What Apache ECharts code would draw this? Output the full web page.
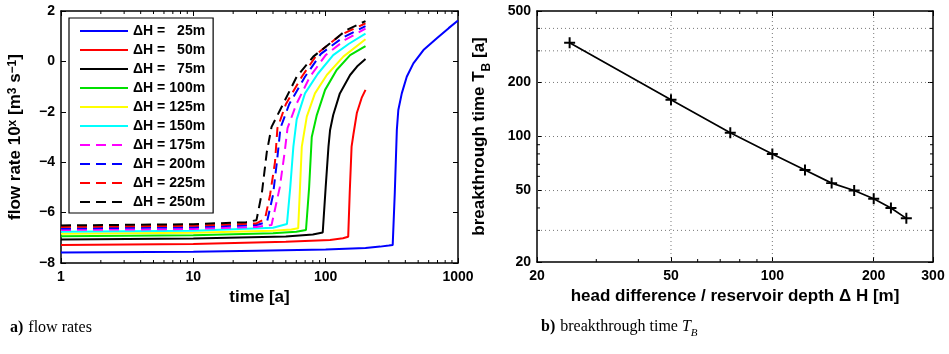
<!DOCTYPE html>
<html><head><meta charset="utf-8">
<script src="https://cdn.jsdelivr.net/npm/echarts@6/dist/echarts.min.js"></script>
<style>html,body{margin:0;padding:0;background:#fff}#c{width:949px;height:354px}</style>
</head><body><div id="c"></div>
<script>
// ---------- data ----------
const heads = [25, 50, 75, 100, 125, 150, 175, 200, 225, 250];
const flow25  = [[1,-7.58],[10,-7.55],[30,-7.51],[100,-7.46],[200,-7.40],[258,-7.35],[300,-7.31],[321,-7.29],[333,-5.2],[345,-2.72],[354,-1.93],[376,-1.27],[410,-0.61],[460,-0.08],[548,0.45],[692,0.92],[850,1.32],[1000,1.62]];
const flow50  = [[1,-7.29],[10,-7.25],[50,-7.16],[108,-7.09],[135,-7.02],[148,-6.96],[152,-5.2],[157,-3.38],[162,-2.9],[172,-2.05],[187,-1.45],[200,-1.13]];
const flow75  = [[1,-7.07],[10,-7.03],[50,-6.95],[80,-6.87],[95,-6.79],[100,-5.0],[105,-3.38],[108,-2.72],[114,-2.13],[128,-1.27],[153,-0.54],[175,-0.17],[200,0.10]];
const flow100 = [[1,-6.94],[10,-6.90],[40,-6.82],[60,-6.76],[71,-6.69],[75,-5.0],[78.5,-3.0],[85.7,-2.13],[99,-1.13],[121,-0.34],[153,0.25],[200,0.61]];
const flow125 = [[1,-6.84],[10,-6.80],[40,-6.72],[55,-6.67],[62,-6.62],[64,-5.0],[66,-3.38],[72,-2.19],[83,-1.27],[102,-0.54],[136,0.19],[200,0.88]];
const flow150 = [[1,-6.76],[10,-6.72],[40,-6.60],[51,-6.45],[54,-5.0],[57,-3.38],[60.4,-2.3],[69.8,-1.27],[87,-0.5],[114,0.25],[150,0.70],[200,1.10]];
const flow175 = [[1,-6.69],[10,-6.65],[30,-6.57],[39,-6.49],[45,-5.0],[49,-3.6],[51.5,-2.65],[60,-1.7],[76,-0.61],[100,0.25],[140,0.85],[200,1.30]];
const flow200 = [[1,-6.63],[10,-6.58],[30,-6.49],[36,-6.38],[40,-5.3],[43,-3.9],[45.5,-2.65],[53,-1.7],[69.8,-0.61],[92,0.3],[135,0.95],[200,1.40]];
const flow225 = [[1,-6.57],[10,-6.52],[30,-6.43],[34.8,-6.25],[38,-5.3],[41.4,-4.0],[43.2,-2.65],[50,-1.7],[66,-0.61],[88,0.35],[130,1.05],[200,1.51]];
const flow250 = [[1,-6.51],[10,-6.46],[25,-6.38],[30,-6.30],[33,-5.2],[35.9,-3.6],[39,-2.6],[48,-1.66],[60.4,-0.61],[80.6,0.19],[108,0.72],[144,1.25],[200,1.60]];
const flowSeries = [flow25, flow50, flow75, flow100, flow125, flow150, flow175, flow200, flow225, flow250];
const breakthroughTimes = [333, 160, 105, 80, 65, 55, 50, 45, 40, 35];

const leftXTicks = [1, 10, 100, 1000];
const leftXMinor = [2,3,4,5,6,7,8,9,20,30,40,50,60,70,80,90,200,300,400,500,600,700,800,900];
const leftYTicks = [-8, -6, -4, -2, 0, 2];
const rightXTicks = [20, 50, 100, 200, 300];
const rightXMinor = [30, 40, 60, 70, 80, 90];
const rightYTicks = [20, 50, 100, 200, 500];
const rightYMinor = [30, 40, 60, 70, 80, 90, 300, 400];
const rightXGrid = [50, 100, 200];
const rightYGrid = [30, 50, 100, 200, 300, 400];

// ---------- style ----------
const colors = ['#0000ff','#ff0000','#000000','#00e000','#ffff00','#00ffff','#ff00ff','#0000ff','#ff0000','#000000'];
const dashed = [false,false,false,false,false,false,true,true,true,true];
const FONT = 'Liberation Sans, Arial, sans-serif';
const SERIF = 'Liberation Serif, DejaVu Serif, serif';
const L = {xmin:1, xmax:1000, ymin:-8, ymax:2};
const R = {xmin:20, xmax:300, ymin:20, ymax:500};

const labelStyle = {color:'#000', fontFamily:FONT, fontWeight:'bold', fontSize:14};
const nameRich = {
  n:{fontFamily:FONT, fontWeight:'bold', fontSize:17, color:'#000', lineHeight:24, verticalAlign:'top'},
  sup:{fontFamily:FONT, fontWeight:'bold', fontSize:12, color:'#000', lineHeight:10, verticalAlign:'top'},
  sub:{fontFamily:FONT, fontWeight:'bold', fontSize:12, color:'#000', lineHeight:13, verticalAlign:'top', padding:[10,0,0,0]}
};

function axisBase(extra){
  return Object.assign({
    axisLine:{show:true, onZero:false, lineStyle:{color:'#000', width:1.5}},
    axisTick:{show:true, inside:true, length:5, lineStyle:{color:'#000', width:1}},
    splitLine:{show:false}, minorTick:{show:false}
  }, extra);
}

function tickSeries(xi, yi, vals, orient, lo, hi, len){
  return {
    type:'custom', xAxisIndex:xi, yAxisIndex:yi, silent:true, z:6, animation:false,
    data: vals.map(v => orient === 'x' ? [v, lo] : [lo, v]),
    renderItem(params, api){
      if (orient === 'x') {
        const v = api.value(0);
        const p1 = api.coord([v, lo]), p2 = api.coord([v, hi]);
        return {type:'group', children:[
          {type:'line', shape:{x1:p1[0], y1:p1[1], x2:p1[0], y2:p1[1]-len}, style:{stroke:'#000', lineWidth:1}},
          {type:'line', shape:{x1:p2[0], y1:p2[1], x2:p2[0], y2:p2[1]+len}, style:{stroke:'#000', lineWidth:1}}
        ]};
      } else {
        const v = api.value(1);
        const p1 = api.coord([lo, v]), p2 = api.coord([hi, v]);
        return {type:'group', children:[
          {type:'line', shape:{x1:p1[0], y1:p1[1], x2:p1[0]+len, y2:p1[1]}, style:{stroke:'#000', lineWidth:1}},
          {type:'line', shape:{x1:p2[0], y1:p2[1], x2:p2[0]-len, y2:p2[1]}, style:{stroke:'#000', lineWidth:1}}
        ]};
      }
    }
  };
}
function gridSeries(xi, yi, vals, orient, lo, hi){
  return {
    type:'custom', xAxisIndex:xi, yAxisIndex:yi, silent:true, z:1, animation:false,
    data: vals.map(v => orient === 'x' ? [v, lo] : [lo, v]),
    renderItem(params, api){
      let p1, p2;
      if (orient === 'x') { const v = api.value(0); p1 = api.coord([v, lo]); p2 = api.coord([v, hi]); }
      else { const v = api.value(1); p1 = api.coord([lo, v]); p2 = api.coord([hi, v]); }
      return {type:'line', shape:{x1:p1[0], y1:p1[1], x2:p2[0], y2:p2[1]}, style:{stroke:'#555', lineWidth:0.8, lineDash:[1,3]}};
    }
  };
}

const plusPath = 'path://M4.1,0h1.8v4.1h4.1v1.8h-4.1v4.1h-1.8v-4.1h-4.1v-1.8h4.1z';

const series = [];
heads.forEach((h, i) => {
  series.push({
    name: 'ΔH = ' + h + 'm', type:'line', xAxisIndex:0, yAxisIndex:0,
    data: flowSeries[i], showSymbol:false, symbol:'none', animation:false, z:3,
    lineStyle:{color:colors[i], width:2, type: dashed[i] ? [10,6] : 'solid'},
    itemStyle:{color:colors[i]}
  });
});
series.push(tickSeries(0, 0, leftXMinor, 'x', L.ymin, L.ymax, 3));
series.push(gridSeries(2, 2, rightXGrid, 'x', R.ymin, R.ymax));
series.push(gridSeries(2, 2, rightYGrid, 'y', R.xmin, R.xmax));
series.push(tickSeries(2, 2, rightXMinor, 'x', R.ymin, R.ymax, 3));
series.push(tickSeries(2, 2, rightYMinor, 'y', R.xmin, R.xmax, 3));
series.push({
  name:'breakthrough', type:'line', xAxisIndex:2, yAxisIndex:2,
  data: heads.map((h, i) => [h, breakthroughTimes[i]]),
  symbol: plusPath, symbolSize: 11, showSymbol:true, animation:false, z:4,
  lineStyle:{color:'#000', width:1.7}, itemStyle:{color:'#000'}
});

const option = {
  backgroundColor:'#fff',
  animation:false,
  grid:[
    {left:61, top:11, width:397, height:252, show:false},
    {left:537, top:11, width:396, height:251, show:false}
  ],
  legend:{
    show:true, orient:'vertical', left:69, top:18,
    data: heads.map(h => 'ΔH = ' + h + 'm'),
    itemWidth:48, itemHeight:14, itemGap:5,
    padding:[6,8,4,10], borderColor:'#000', borderWidth:1.2, backgroundColor:'#fff',
    selectedMode:false,
    itemStyle:{opacity:0},
    formatter: name => { const m = name.match(/(\d+)m/); return '{a|ΔH = }{b|' + m[1] + 'm}'; },
    textStyle:{color:'#000', fontFamily:FONT, fontWeight:'bold', fontSize:14, padding:[0,0,0,0],
      rich:{a:{fontFamily:FONT, fontWeight:'bold', fontSize:14, color:'#000'},
            b:{fontFamily:FONT, fontWeight:'bold', fontSize:14, color:'#000', width:36, align:'right'}}}
  },
  title:[
    {left:5, top:314, text:'{b|a)} {n|flow rates}',
      textStyle:{fontWeight:'normal', rich:{b:{fontFamily:SERIF, fontWeight:'bold', fontSize:16, color:'#000'},
                       n:{fontFamily:SERIF, fontWeight:'normal', fontSize:16, color:'#000'}}}},
    {left:536, top:314, text:'{b|b)} {n|breakthrough time }{it|T}{sub|B}',
      textStyle:{fontWeight:'normal', rich:{b:{fontFamily:SERIF, fontWeight:'bold', fontSize:16, color:'#000', lineHeight:20, verticalAlign:'top'},
                       n:{fontFamily:SERIF, fontWeight:'normal', fontSize:16, color:'#000', lineHeight:20, verticalAlign:'top'},
                       it:{fontFamily:SERIF, fontWeight:'normal', fontStyle:'italic', fontSize:16, color:'#000', lineHeight:20, verticalAlign:'top'},
                       sub:{fontFamily:SERIF, fontWeight:'normal', fontStyle:'italic', fontSize:11, color:'#000', lineHeight:12, verticalAlign:'top', padding:[9,0,0,0]}}}}
  ],
  xAxis:[
    axisBase({gridIndex:0, type:'log', logBase:10, min:L.xmin, max:L.xmax, position:'bottom',
      name:'time [a]', nameLocation:'middle', nameGap:26,
      nameTextStyle:{fontFamily:FONT, fontWeight:'bold', fontSize:17, color:'#000'},
      axisLabel:Object.assign({margin:7, customValues:leftXTicks, showMinLabel:true, showMaxLabel:true, formatter: v => String(v)}, labelStyle),
      axisTick:{show:true, inside:true, length:5, customValues:leftXTicks, lineStyle:{color:'#000', width:1}}}),
    axisBase({gridIndex:0, type:'log', logBase:10, min:L.xmin, max:L.xmax, position:'top',
      axisLabel:{show:false},
      axisTick:{show:true, inside:true, length:5, customValues:leftXTicks, lineStyle:{color:'#000', width:1}}}),
    axisBase({gridIndex:1, type:'log', logBase:10, min:R.xmin, max:R.xmax, position:'bottom',
      name:'head difference / reservoir depth Δ H [m]', nameLocation:'middle', nameGap:26,
      nameTextStyle:{fontFamily:FONT, fontWeight:'bold', fontSize:17, color:'#000'},
      axisLabel:Object.assign({margin:7, customValues:rightXTicks, showMinLabel:true, showMaxLabel:true, formatter: v => String(v)}, labelStyle),
      axisTick:{show:true, inside:true, length:5, customValues:rightXTicks, lineStyle:{color:'#000', width:1}}}),
    axisBase({gridIndex:1, type:'log', logBase:10, min:R.xmin, max:R.xmax, position:'top',
      axisLabel:{show:false},
      axisTick:{show:true, inside:true, length:5, customValues:rightXTicks, lineStyle:{color:'#000', width:1}}})
  ],
  yAxis:[
    axisBase({gridIndex:0, type:'value', min:L.ymin, max:L.ymax, interval:2, position:'left',
      name:'{n|flow rate 10}{sup|x}{n| [m}{sup|3}{n| s}{sup|−1}{n|]}', nameLocation:'middle', nameRotate:90, nameGap:30,
      nameTextStyle:{rich:nameRich},
      axisLabel:Object.assign({margin:6, formatter: v => String(v).replace('-', '−')}, labelStyle)}),
    axisBase({gridIndex:0, type:'value', min:L.ymin, max:L.ymax, interval:2, position:'right',
      axisLabel:{show:false}}),
    axisBase({gridIndex:1, type:'log', logBase:10, min:R.ymin, max:R.ymax, position:'left',
      name:'{n|breakthrough time T}{sub|B}{n| [a]}', nameLocation:'middle', nameRotate:90, nameGap:42,
      nameTextStyle:{rich:nameRich},
      axisLabel:Object.assign({margin:6, customValues:rightYTicks, showMinLabel:true, showMaxLabel:true, formatter: v => String(v)}, labelStyle),
      axisTick:{show:true, inside:true, length:5, customValues:rightYTicks, lineStyle:{color:'#000', width:1}}}),
    axisBase({gridIndex:1, type:'log', logBase:10, min:R.ymin, max:R.ymax, position:'right',
      axisLabel:{show:false},
      axisTick:{show:true, inside:true, length:5, customValues:rightYTicks, lineStyle:{color:'#000', width:1}}})
  ],
  series: series
};

const chart = echarts.init(document.getElementById('c'), null, {renderer:'canvas'});
chart.setOption(option);
</script>
</body></html>
